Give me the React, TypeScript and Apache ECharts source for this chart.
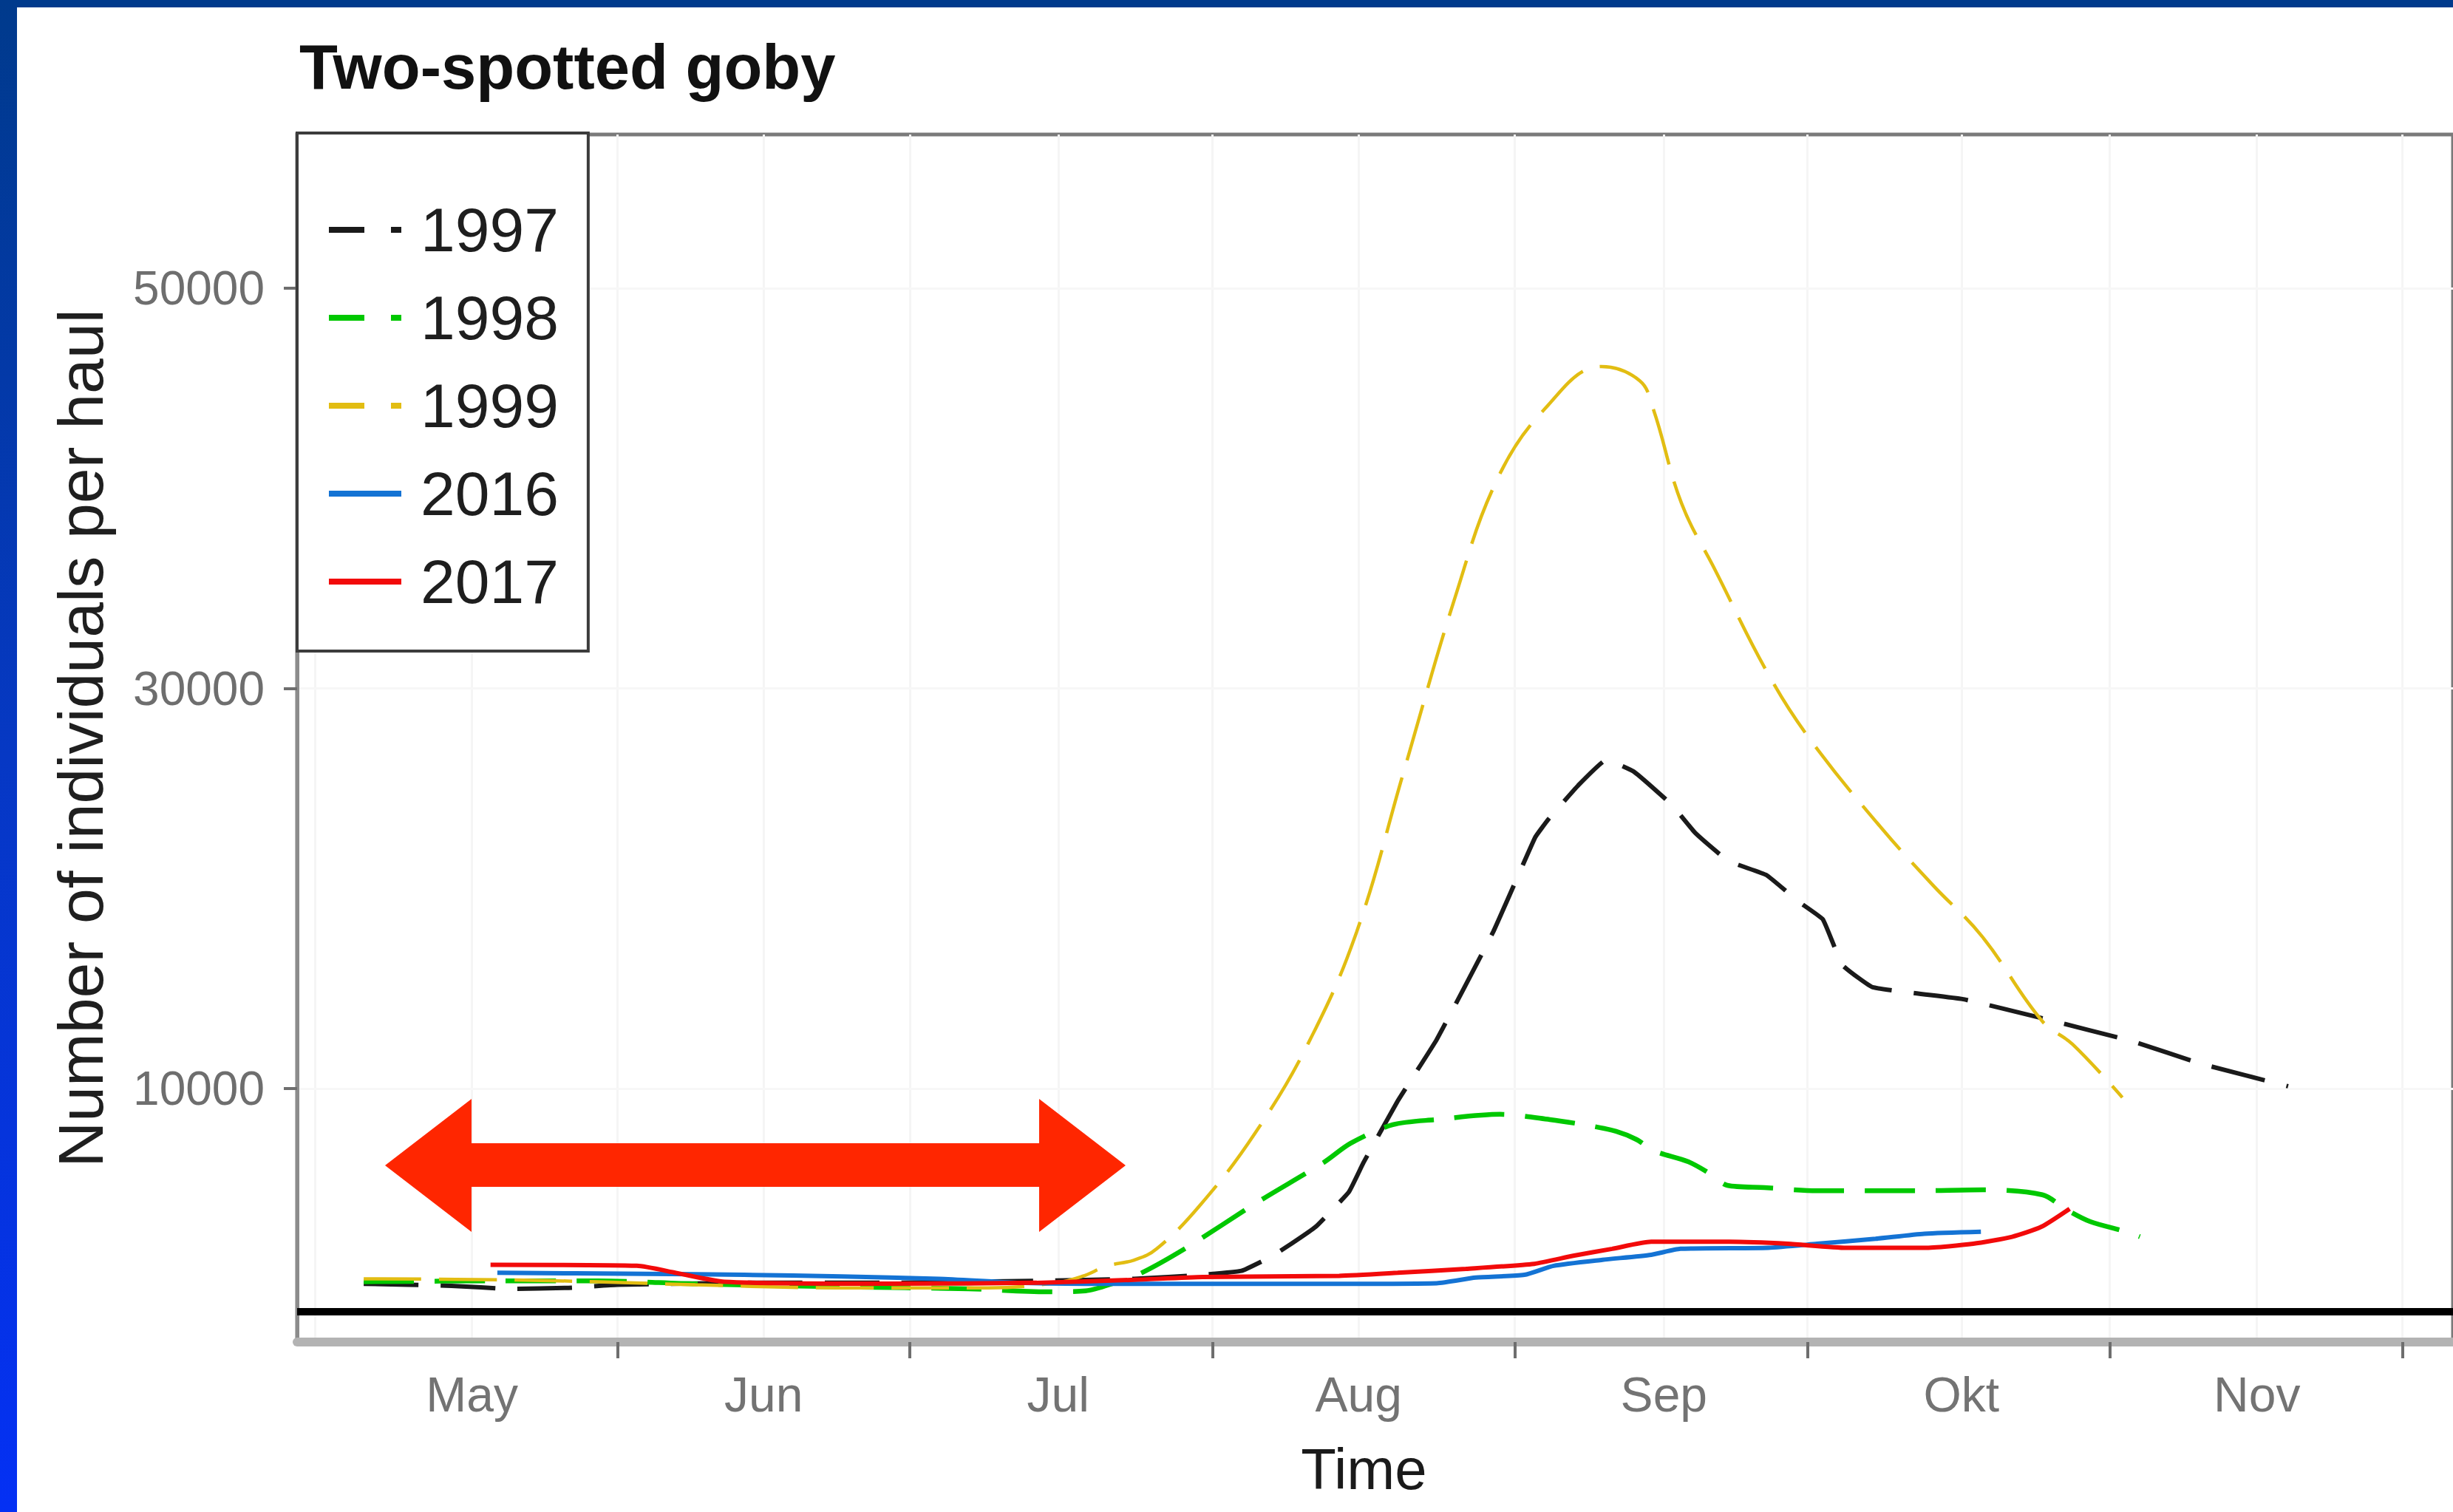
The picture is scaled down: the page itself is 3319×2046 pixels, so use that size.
import React, { useEffect, useRef } from 'react';
import * as echarts from 'echarts';

// Day-of-year positions used by the time axis
const monthStarts = [121, 152, 182, 213, 244, 274, 305, 335];
const tickDays = [152, 182, 213, 244, 274, 305, 335];
const monthMids = [137.1, 167, 197.2, 228, 259.3, 289.8, 320.1];
const monthNames = ['May', 'Jun', 'Jul', 'Aug', 'Sep', 'Okt', 'Nov'];
const yTicks = [10000, 30000, 50000];

const years = ['1997', '1998', '1999', '2016', '2017'];

// Catch per haul by day of year
const days1997 = [126, 135, 141, 147, 152, 165, 180, 195, 205, 212, 216, 219, 221.1, 223.6, 227, 228.5, 232, 236, 241.8, 246.1, 247.5, 250.5, 253.4, 256.2, 260.1, 262.5, 265.9, 269.8, 273.1, 275.6, 277.6, 280.7, 289.9, 298.1, 307.3, 314.5, 323.3];
const haul1997 = [250, 150, 0, 50, 200, 300, 300, 400, 500, 700, 900, 1600, 2250, 3100, 4840, 6310, 9380, 12450, 17840, 22560, 23490, 25150, 26440, 25850, 24190, 22790, 21380, 20680, 19350, 18460, 16180, 15070, 14480, 13520, 12370, 11230, 10120];

const days1998 = [126, 140, 150, 160, 175, 188, 196, 200, 203, 205.8, 210.5, 217.6, 224.4, 227.2, 231.5, 236, 242.5, 247.6, 251.6, 254.4, 256.5, 258.2, 261.8, 264, 265.8, 269.6, 275, 285, 292, 298.1, 300.6, 303, 306.8, 308.1];
const haul1998 = [350, 400, 400, 250, 100, 0, -150, -100, 300, 810, 2100, 4320, 6310, 7280, 8200, 8460, 8720, 8460, 8160, 7870, 7460, 6910, 6350, 5760, 5170, 5060, 4900, 4900, 4950, 4700, 3950, 3360, 2840, 2600];

const days1999 = [126, 140, 150, 160, 175, 190, 197, 199.7, 202.2, 205, 207.3, 211.8, 217.4, 222.9, 227.8, 232.6, 237.9, 242.2, 247.1, 252.9, 256.8, 258.2, 261.1, 264.5, 270.2, 274.6, 281.7, 286.9, 291.9, 298.1, 301.2, 306.3];
const haul1999 = [500, 450, 350, 200, 50, 50, 300, 630, 1140, 1440, 2000, 4210, 7790, 12330, 17840, 25800, 34570, 40440, 43980, 46090, 45390, 43980, 39260, 35970, 30540, 27250, 22970, 20160, 17620, 13370, 12220, 9560];

const days2016 = [139.7, 155, 165, 175, 185, 193, 200, 225, 236, 240, 245, 248, 253, 258, 261, 270, 275, 281, 286, 291.8];
const haul2016 = [800, 750, 700, 620, 500, 300, 250, 250, 280, 560, 700, 1150, 1450, 1700, 2000, 2050, 2250, 2500, 2750, 2850];

const days2017 = [139, 154, 158, 163, 180, 195, 205, 212, 226, 232, 239, 246, 250, 254, 258, 266, 272, 278, 286, 291, 295, 298, 300.9];
const haul2017 = [1200, 1150, 800, 350, 260, 300, 450, 590, 650, 800, 1000, 1250, 1650, 2000, 2350, 2350, 2250, 2050, 2050, 2250, 2600, 3100, 4000];

// Reference line drawn just below zero
const baselineValue = -1150;

const FONT = 'Liberation Sans, Arial, sans-serif';

const dashedIcon = 'path://M0,0H48V8H0ZM84,0H98V8H84Z';
const solidIcon = 'path://M0,0H98V8H0Z';

const styles: Record<string, { color: string; width: number; dash: number[] | 'solid'; smooth: number; icon: string }> = {
  '1997': { color: '#1a1a1a', width: 6, dash: [74, 30], smooth: 0.1, icon: dashedIcon },
  '1998': { color: '#00c800', width: 6.5, dash: [68, 28], smooth: 0.3, icon: dashedIcon },
  '1999': { color: '#e2bd12', width: 4.5, dash: [78, 24], smooth: 0.4, icon: dashedIcon },
  '2016': { color: '#1473d4', width: 6, dash: 'solid', smooth: 0.2, icon: solidIcon },
  '2017': { color: '#f20a0a', width: 6, dash: 'solid', smooth: 0.2, icon: solidIcon },
};

const seriesData: Record<string, [number[], number[]]> = {
  '1997': [days1997, haul1997],
  '1998': [days1998, haul1998],
  '1999': [days1999, haul1999],
  '2016': [days2016, haul2016],
  '2017': [days2017, haul2017],
};

export default function App() {
  const ref = useRef<HTMLDivElement>(null);

  useEffect(() => {
    if (!ref.current) return;
    const chart = echarts.init(ref.current, null, { renderer: 'svg' });

    const series: any[] = years.map((y, idx) => {
      const [d, v] = seriesData[y];
      const st = styles[y];
      const s: any = {
        name: y,
        type: 'line',
        xAxisIndex: 0,
        yAxisIndex: 0,
        data: d.map((day, i) => [day, v[i]]),
        symbol: 'none',
        showSymbol: false,
        smooth: st.smooth,
        color: st.color,
        itemStyle: { color: st.color },
        lineStyle: { color: st.color, width: st.width, type: st.dash, cap: 'butt' },
        z: 10 + idx,
      };
      if (idx === 0) {
        s.markLine = {
          silent: true,
          symbol: 'none',
          label: { show: false },
          lineStyle: { color: '#000', width: 10, type: 'solid' },
          data: [{ yAxis: baselineValue }],
          z: 5,
        };
      }
      return s;
    });

    const xMin = 119.17;
    const xMax = 340.2;
    const yMin = -2659;
    const yMax = 57684;

    const option: any = {
      animation: false,
      backgroundColor: '#ffffff',
      title: {
        text: 'Two-spotted goby',
        left: 405,
        top: 48,
        padding: 0,
        textStyle: { fontFamily: FONT, fontSize: 85, fontWeight: 'bold', color: '#111', lineHeight: 85 },
      },
      legend: {
        orient: 'vertical',
        left: 402,
        top: 180,
        padding: [89, 40, 52, 43],
        itemGap: 35,
        itemWidth: 98,
        itemHeight: 8,
        borderColor: '#3c3c3c',
        borderWidth: 4,
        backgroundColor: '#ffffff',
        itemStyle: { borderWidth: 0 },
        textStyle: { fontFamily: FONT, fontSize: 84, lineHeight: 84, color: '#1e1e1e', padding: [0, 0, 0, 21] },
        data: years.map((y) => ({ name: y, icon: styles[y].icon })),
        z: 20,
      },
      grid: {
        left: 402,
        right: -5,
        top: 182,
        bottom: 230,
        show: true,
        borderColor: '#7a7a7a',
        borderWidth: 5,
        backgroundColor: 'transparent',
      },
      xAxis: [
        {
          type: 'value',
          min: xMin,
          max: xMax,
          name: 'Time',
          nameLocation: 'middle',
          nameGap: 133,
          nameTextStyle: { fontFamily: FONT, fontSize: 78, lineHeight: 78, color: '#1a1a1a', padding: [0, 30, 0, 0] },
          axisLine: { show: true, onZero: false, lineStyle: { color: '#b3b3b3', width: 12 } },
          axisTick: { show: true, length: 22, customValues: tickDays, lineStyle: { color: '#6e6e6e', width: 4 } },
          axisLabel: {
            show: true,
            margin: 38,
            customValues: monthMids,
            fontFamily: FONT,
            fontSize: 66,
            lineHeight: 66,
            color: '#737373',
            formatter: (val: number) => {
              const i = monthMids.findIndex((m) => Math.abs(m - val) < 0.3);
              return i >= 0 ? monthNames[i] : '';
            },
          },
          splitLine: { show: false },
          z: 3,
        },
        {
          type: 'value',
          min: xMin,
          max: xMax,
          position: 'bottom',
          axisLine: { show: false },
          axisTick: { show: false, customValues: monthStarts.concat(monthMids) },
          axisLabel: { show: false },
          splitLine: { show: true, lineStyle: { color: '#f5f5f5', width: 3 } },
          z: 0,
        },
      ],
      yAxis: [
        {
          type: 'value',
          min: yMin,
          max: yMax,
          name: 'Number of individuals per haul',
          nameLocation: 'middle',
          nameRotate: 90,
          nameGap: 250,
          nameTextStyle: { fontFamily: FONT, fontSize: 86, lineHeight: 86, color: '#1f1f1f' },
          axisLine: { show: true, onZero: false, lineStyle: { color: '#8c8c8c', width: 5 } },
          axisTick: { show: true, length: 18, customValues: yTicks, lineStyle: { color: '#6e6e6e', width: 4 } },
          axisLabel: {
            show: true,
            margin: 44,
            customValues: yTicks,
            fontFamily: FONT,
            fontSize: 64,
            color: '#6e6e6e',
            formatter: (val: number) => String(val),
          },
          splitLine: { show: true, lineStyle: { color: '#f7f7f7', width: 3 } },
          z: 3,
        },
      ],
      graphic: [
        {
          // double-headed arrow marking the early-season period
          type: 'polygon',
          z: 30,
          silent: true,
          shape: {
            points: [
              [521, 1577], [638, 1487], [638, 1547], [1406, 1547], [1406, 1487],
              [1523, 1577], [1406, 1667], [1406, 1606], [638, 1606], [638, 1667],
            ],
          },
          style: { fill: '#ff2600' },
        },
        {
          type: 'rect',
          z: 40,
          silent: true,
          shape: { x: 0, y: 0, width: 3319, height: 10 },
          style: { fill: '#003a8c' },
        },
        {
          type: 'rect',
          z: 40,
          silent: true,
          shape: { x: 0, y: 0, width: 23, height: 2046 },
          style: {
            fill: new echarts.graphic.LinearGradient(0, 0, 0, 1, [
              { offset: 0, color: '#003a8c' },
              { offset: 0.5, color: '#0638c4' },
              { offset: 1, color: '#0430f4' },
            ]),
          },
        },
      ],
      series,
    };

    chart.setOption(option);
    return () => chart.dispose();
  }, []);

  return (
    <div
      ref={ref}
      style={{ position: 'fixed', left: 0, top: 0, width: 3319, height: 2046, background: '#ffffff' }}
    />
  );
}
